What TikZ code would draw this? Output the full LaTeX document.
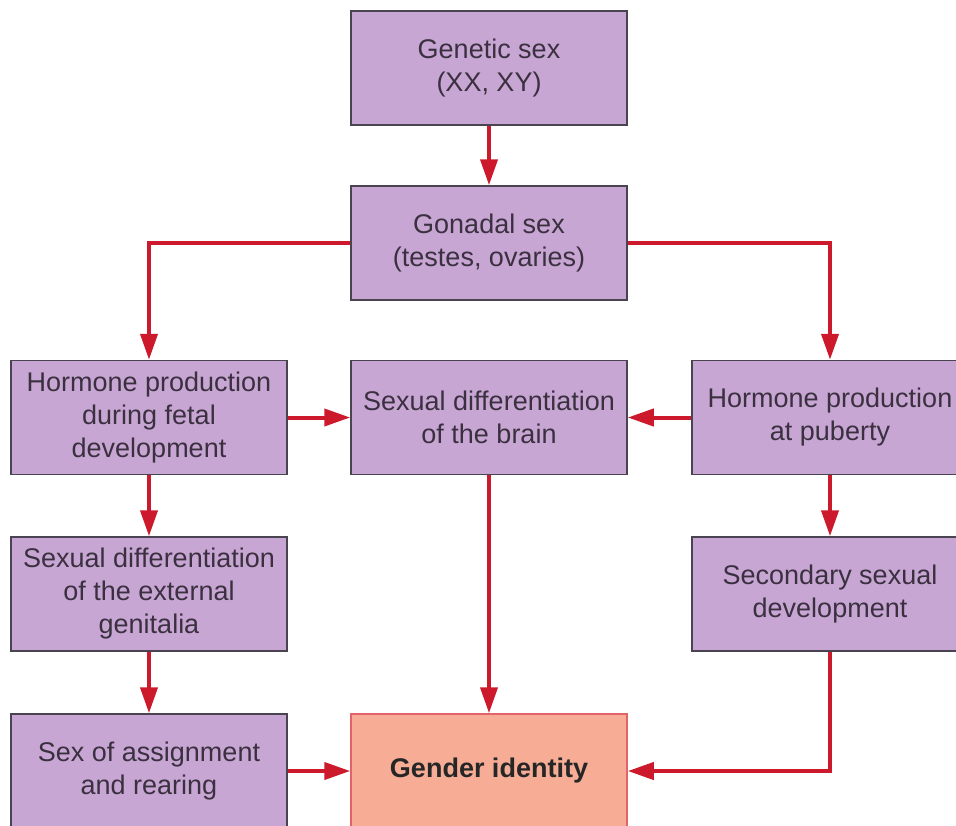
\documentclass[tikz,border=0pt]{standalone}
\usepackage{fontspec}
\setmainfont{Liberation Sans}
\usetikzlibrary{arrows.meta,positioning}
\definecolor{BoxLilac}{HTML}{C8A6D3}
\definecolor{BoxEdge}{HTML}{4A4350}
\definecolor{IdSalmon}{HTML}{F6AC95}
\definecolor{IdEdge}{HTML}{E2646A}
\definecolor{ArrowRed}{HTML}{CC1A2C}
\definecolor{LabelInk}{HTML}{3A3040}
\tikzset{
  stagebox/.style={draw=BoxEdge,fill=BoxLilac,line width=.75pt,
    minimum width=138pt,minimum height=57pt,inner sep=0pt,align=center,
    text=LabelInk,font=\fontsize{13.5}{16.5}\selectfont},
  identitybox/.style={stagebox,draw=IdEdge,fill=IdSalmon,text=black!85,
    font=\fontsize{13.5}{16.5}\selectfont\bfseries},
  flow/.style={draw=ArrowRed,line width=2pt,-{Triangle[length=13pt,width=8.5pt]}}
}

\begin{document}
\begin{tikzpicture}[x=.5pt,y=-.5pt]
\useasboundingbox (0,0) rectangle (956,825);
% top of the chain
\node[stagebox] (genetic) at (489,68) {Genetic sex\\(XX, XY)};
\node[stagebox] (gonadal) at (489,243) {Gonadal sex\\(testes, ovaries)};
% hormone row
\node[stagebox] (fetal) at (149,417.5) {Hormone production\\during fetal\\development};
\node[stagebox] (brain) at (489,417.5) {Sexual differentiation\\of the brain};
\node[stagebox] (puberty) at (830,417.5) {Hormone production\\at puberty};
% bodies
\node[stagebox] (genitalia) at (149,594) {Sexual differentiation\\of the external\\genitalia};
\node[stagebox] (secondary) at (830,594) {Secondary sexual\\development};
% bottom row
\node[stagebox] (rearing) at (149,771) {Sex of assignment\\and rearing};
\node[identitybox] (identity) at (489,771) {Gender identity};

\draw[flow] (genetic) -- (gonadal);
\draw[flow] (gonadal.west) -| (fetal.north);
\draw[flow] (gonadal.east) -| (puberty.north);
\draw[flow] (fetal) -- (brain);
\draw[flow] (puberty) -- (brain);
\draw[flow] (fetal) -- (genitalia);
\draw[flow] (genitalia) -- (rearing);
\draw[flow] (puberty) -- (secondary);
\draw[flow] (brain) -- (identity);
\draw[flow] (rearing) -- (identity);
\draw[flow] (secondary.south) |- (identity.east);
\end{tikzpicture}
\end{document}
